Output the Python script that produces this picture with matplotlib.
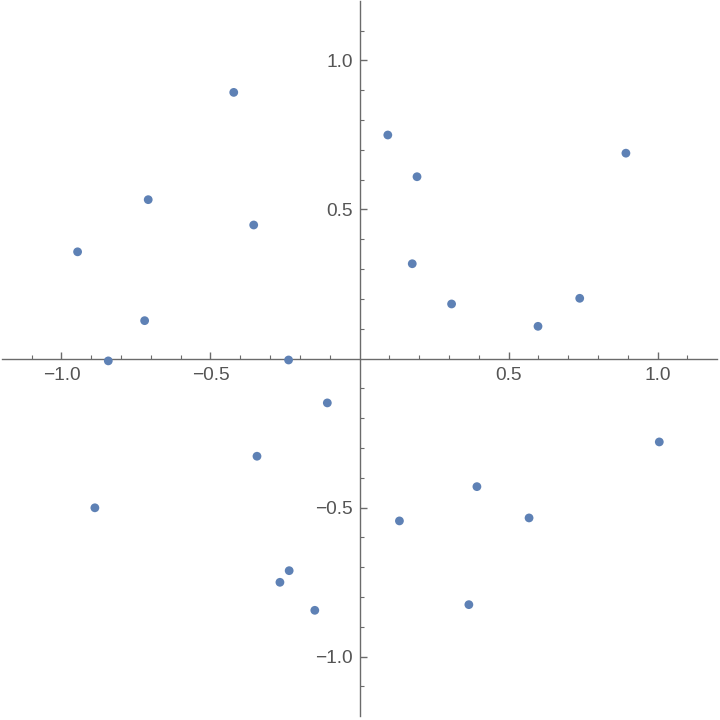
import numpy as np
import matplotlib.pyplot as plt

# Point data
x = [-0.422, -0.709, -0.355, -0.946, -0.721, -0.843, -0.238,
     0.095, 0.894, 0.193, 0.177, 0.309, 0.739, 0.599,
     -0.108, -0.344, -0.888, -0.236, -0.267, -0.150,
     1.006, 0.394, 0.134, 0.569, 0.367]
y = [0.893, 0.533, 0.448, 0.358, 0.127, -0.008, -0.005,
     0.750, 0.689, 0.610, 0.318, 0.183, 0.202, 0.108,
     -0.149, -0.328, -0.501, -0.712, -0.751, -0.845,
     -0.280, -0.430, -0.545, -0.535, -0.826]

major = [-1.0, -0.5, 0.5, 1.0]
labels = ["\u22121.0", "\u22120.5", "0.5", "1.0"]

plt.rcParams['font.family'] = ['Liberation Sans', 'DejaVu Sans']
axis_col = "#6b6b6b"

fig = plt.figure(figsize=(7.2, 7.2), dpi=100)
ax = fig.add_axes([1.9/720, 3.9/720, 715.2/720, 715.2/720])
ax.scatter(x, y, s=40, color="#5E81B5", edgecolors="none", zorder=3)

ax.set_xlim(-1.2, 1.2)
ax.set_ylim(-1.2, 1.2)
for s in ["top", "right"]:
    ax.spines[s].set_visible(False)
for s in ["left", "bottom"]:
    ax.spines[s].set_position(("data", 0))
    ax.spines[s].set_color(axis_col)
    ax.spines[s].set_linewidth(1.0)

minor = [v for v in np.round(np.arange(-1.1, 1.15, 0.1), 1) if v not in major and v != 0]
ax.set_xticks(major)
ax.set_xticklabels(labels)
ax.set_yticks(major)
ax.set_yticklabels(labels)
ax.set_xticks(minor, minor=True)
ax.set_yticks(minor, minor=True)
ax.tick_params(which="major", direction="in", length=5, width=1.0, color=axis_col,
               labelsize=13.8, labelcolor="#555555")
ax.tick_params(which="minor", direction="in", length=3, width=0.8, color=axis_col)
ax.tick_params(axis="x", which="major", pad=6)
ax.tick_params(axis="y", which="major", pad=5)

fig.savefig("out.png", dpi=100)
